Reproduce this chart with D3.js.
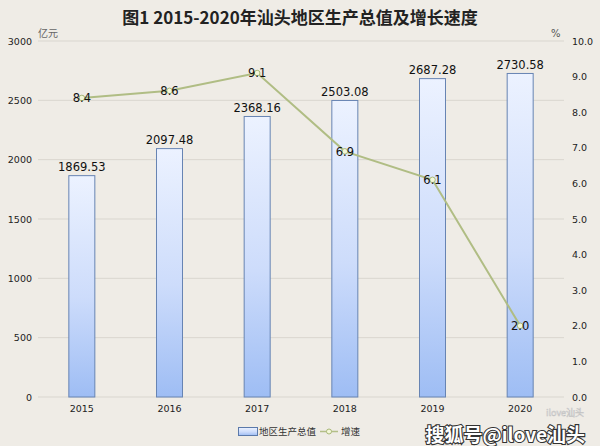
<!DOCTYPE html>
<html><head><meta charset="utf-8">
<script src="https://cdn.jsdelivr.net/npm/d3@7"></script>
<style>html,body{margin:0;padding:0;background:#efece6;}svg{display:block;}</style>
</head><body>
<script>
const years = ["2015","2016","2017","2018","2019","2020"];
const gdp = [1869.53, 2097.48, 2368.16, 2503.08, 2687.28, 2730.58];
const growth = [8.4, 8.6, 9.1, 6.9, 6.1, 2.0];
const leftTicks = [0, 500, 1000, 1500, 2000, 2500, 3000];
const rightTicks = [0,1,2,3,4,5,6,7,8,9,10];
const title = "图1 2015-2020年汕头地区生产总值及增长速度";
const seriesNames = ["地区生产总值", "增速"];

const W = 600, H = 446;
const svg = d3.select("body").append("svg").attr("width", W).attr("height", H);
svg.append("rect").attr("width", W).attr("height", H).attr("fill", "#efece6");

const defs = svg.append("defs");
const grad = defs.append("linearGradient").attr("id","bg").attr("x1",0).attr("y1",0).attr("x2",0).attr("y2",1);
grad.append("stop").attr("offset","0%").attr("stop-color","#ecf2ff");
grad.append("stop").attr("offset","55%").attr("stop-color","#cddcfb");
grad.append("stop").attr("offset","100%").attr("stop-color","#9ebdf4");

const x = d3.scaleBand().domain(years).range([38, 564]);
const yL = d3.scaleLinear().domain([0, 3000]).range([397, 41]);
const yR = d3.scaleLinear().domain([0, 10]).range([397, 41]);
const FONT = "'DejaVu Sans', sans-serif";

// title
svg.append("text").attr("x", 300).attr("y", 24).attr("text-anchor","middle")
  .attr("font-family","'Noto Sans CJK SC', sans-serif").attr("font-weight","bold")
  .attr("font-size", 17).attr("fill","#222").text(title);

svg.append("text").attr("x", 38).attr("y", 37).attr("font-family","'Noto Sans CJK SC', sans-serif")
  .attr("font-size", 10).attr("fill","#666").text("亿元");
svg.append("text").attr("x", 551).attr("y", 37).attr("font-family", FONT)
  .attr("font-size", 10).attr("fill","#555").text("%");

// grid
svg.append("g").selectAll("line").data(leftTicks).join("line")
  .attr("x1", 38).attr("x2", 564).attr("y1", d => yL(d)).attr("y2", d => yL(d))
  .attr("stroke", "#d9d6cf").attr("stroke-width", 1);

// left axis
const axL = svg.append("g").attr("transform","translate(38,0)")
  .call(d3.axisLeft(yL).tickValues(leftTicks).tickFormat(d3.format("d")).tickSize(0).tickPadding(6));
axL.attr("font-family", FONT);
axL.select(".domain").remove();
axL.selectAll("text").attr("font-family", FONT).attr("font-size", 9.5).attr("fill","#222");

// right axis
const axR = svg.append("g").attr("transform","translate(564,0)")
  .call(d3.axisRight(yR).tickValues(rightTicks).tickFormat(d3.format(".1f")).tickSize(0).tickPadding(8));
axR.attr("font-family", FONT);
axR.select(".domain").remove();
axR.selectAll("text").attr("font-family", FONT).attr("font-size", 9.5).attr("fill","#222");

// x axis
const axX = svg.append("g").attr("transform","translate(0,397)")
  .call(d3.axisBottom(x).tickSize(0).tickPadding(8));
axX.attr("font-family", FONT);
axX.select(".domain").remove();
axX.selectAll("text").attr("font-family", FONT).attr("font-size", 9.5).attr("fill","#222");

// bars
const bw = 27;
svg.append("g").selectAll("rect").data(gdp).join("rect")
  .attr("x", (d,i) => x(years[i]) + x.bandwidth()/2 - bw/2 + 0.5)
  .attr("y", d => yL(d) + 0.5)
  .attr("width", bw - 1)
  .attr("height", d => yL(0) - yL(d) - 0.5)
  .attr("fill", "url(#bg)").attr("stroke", "#6784b3").attr("stroke-width", 1);

svg.append("g").selectAll("text").data(gdp).join("text")
  .attr("x", (d,i) => x(years[i]) + x.bandwidth()/2)
  .attr("y", d => yL(d) - 4)
  .attr("text-anchor","middle").attr("font-family", FONT)
  .attr("font-size", 11.5).attr("fill","#111").text(d => d3.format(".2f")(d));

// line
const line = d3.line().x((d,i) => x(years[i]) + x.bandwidth()/2).y(d => yR(d));
svg.append("path").datum(growth).attr("d", line).attr("fill","none")
  .attr("stroke","#b0bd84").attr("stroke-width", 2);
svg.append("g").selectAll("circle").data(growth).join("circle")
  .attr("cx", (d,i) => x(years[i]) + x.bandwidth()/2).attr("cy", d => yR(d)).attr("r", 2.8)
  .attr("fill","#f3f7d8").attr("stroke","#a9b878").attr("stroke-width", 1);
svg.append("g").selectAll("text").data(growth).join("text")
  .attr("x", (d,i) => x(years[i]) + x.bandwidth()/2)
  .attr("y", d => yR(d)).attr("dy","0.36em")
  .attr("text-anchor","middle").attr("font-family", FONT)
  .attr("font-size", 11.5).attr("fill","#111").text(d => d3.format(".1f")(d));

// legend
const lg = svg.append("g");
lg.append("rect").attr("x", 238.5).attr("y", 427.5).attr("width", 19).attr("height", 8)
  .attr("fill","url(#bg)").attr("stroke","#5b79aa");
lg.append("text").attr("x", 259).attr("y", 435).attr("font-family","'Noto Sans CJK SC', serif")
  .attr("font-size", 9.5).attr("fill","#333").text(seriesNames[0]);
lg.append("line").attr("x1", 320).attr("x2", 338).attr("y1", 431.5).attr("y2", 431.5)
  .attr("stroke","#b3bf88").attr("stroke-width", 1.5);
lg.append("circle").attr("cx", 329).attr("cy", 431.5).attr("r", 2.5)
  .attr("fill","#f3f7d8").attr("stroke","#a9b878");
lg.append("text").attr("x", 341).attr("y", 435).attr("font-family","'Noto Sans CJK SC', serif")
  .attr("font-size", 9.5).attr("fill","#333").text(seriesNames[1]);

// watermark
svg.append("text").attr("x", 565).attr("y", 416).attr("text-anchor","middle")
  .attr("font-family","'Noto Sans CJK SC', sans-serif").attr("font-size", 9)
  .attr("fill","#f6f6f6").attr("stroke","#c0c0c0").attr("stroke-width",0.5).text("ilove汕头");
svg.append("text").attr("x", 585).attr("y", 442).attr("text-anchor","end")
  .attr("font-family","'Noto Sans CJK SC', sans-serif").attr("font-weight","bold").attr("font-size", 19)
  .attr("fill","#ffffff").attr("stroke","#333").attr("stroke-width",2.2).attr("paint-order","stroke")
  .text("搜狐号@ilove汕头");
</script>
</body></html>
